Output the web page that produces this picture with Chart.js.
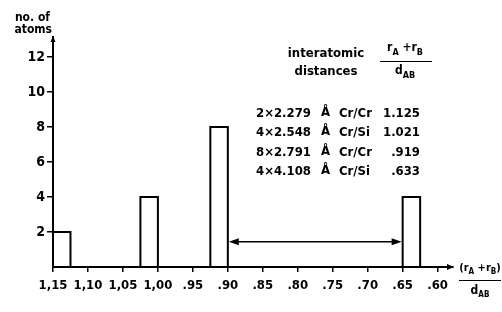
<!DOCTYPE html>
<html><head><meta charset="utf-8">
<script src="https://cdn.jsdelivr.net/npm/chart.js@4"></script>
<style>html,body{margin:0;padding:0;background:#fff}#c{display:block}</style>
</head><body>
<canvas id="c" width="502" height="312"></canvas>
<script>
// ---- data ----
const xTickValues = [1.15, 1.10, 1.05, 1.00, 0.95, 0.90, 0.85, 0.80, 0.75, 0.70, 0.65, 0.60];
const xTickLabels = ['1,15', '1,10', '1,05', '1,00', '.95', '.90', '.85', '.80', '.75', '.70', '.65', '.60'];
const yTickValues = [2, 4, 6, 8, 10, 12];
const binStart = [1.150, 1.025, 0.925, 0.650];
const binEnd = [1.125, 1.000, 0.900, 0.625];
const atomCounts = [2, 4, 8, 4];
const multiplicity = ['2', '4', '8', '4'];
const distances = ['2.279', '2.548', '2.791', '4.108'];
const pairs = ['Cr/Cr', 'Cr/Si', 'Cr/Cr', 'Cr/Si'];
const ratios = ['1.125', '1.021', '.919', '.633'];
const arrowFrom = 0.90, arrowTo = 0.65, arrowLevel = 1.45;
const xMin = 0.578, xMax = 1.15, yMax = 13.15;

const NARROW = '"Liberation Sans Narrow", "DejaVu Sans Condensed", sans-serif';
const FONT = '"DejaVu Sans Condensed", "DejaVu Sans", sans-serif';

const datasets = atomCounts.map((c, i) => ({
  data: [
    {x: binStart[i], y: 0}, {x: binStart[i], y: c},
    {x: binEnd[i], y: c}, {x: binEnd[i], y: 0}
  ],
  borderColor: '#000', borderWidth: 2, pointRadius: 0, tension: 0, fill: false
}));

function setFont(ctx, size, weight) { ctx.font = (weight || 'bold') + ' ' + size + 'px ' + FONT; }
function drawRich(ctx, parts, x, y, size, subSize, align, weight) {
  let w = 0;
  for (const p of parts) { setFont(ctx, p.sub ? subSize : size, weight); w += ctx.measureText(p.t).width; }
  let cx = align === 'center' ? x - w / 2 : (align === 'right' ? x - w : x);
  ctx.textAlign = 'left'; ctx.textBaseline = 'middle';
  for (const p of parts) {
    setFont(ctx, p.sub ? subSize : size, weight);
    ctx.fillText(p.t, cx, y + (p.sub ? size * 0.35 : 0));
    cx += ctx.measureText(p.t).width;
  }
}
function arrowHead(ctx, tipX, tipY, dir, len, half) {
  ctx.beginPath();
  if (dir === 'left') { ctx.moveTo(tipX, tipY); ctx.lineTo(tipX + len, tipY - half); ctx.lineTo(tipX + len, tipY + half); }
  if (dir === 'right') { ctx.moveTo(tipX, tipY); ctx.lineTo(tipX - len, tipY - half); ctx.lineTo(tipX - len, tipY + half); }
  if (dir === 'up') { ctx.moveTo(tipX, tipY); ctx.lineTo(tipX - half, tipY + len); ctx.lineTo(tipX + half, tipY + len); }
  ctx.closePath(); ctx.fill();
}

const annotations = {
  id: 'annotations',
  afterDraw(chart) {
    const ctx = chart.ctx, xs = chart.scales.x, ys = chart.scales.y, a = chart.chartArea;
    ctx.save();
    ctx.fillStyle = '#000'; ctx.strokeStyle = '#000';
    // axis arrowheads
    arrowHead(ctx, a.right + 1, a.bottom, 'right', 7, 3);
    arrowHead(ctx, a.left, a.top - 1, 'up', 6, 2.5);
    // double arrow between .90 and .65
    const ay = ys.getPixelForValue(arrowLevel);
    const x1 = xs.getPixelForValue(arrowFrom), x2 = xs.getPixelForValue(arrowTo);
    ctx.lineWidth = 1.5;
    ctx.beginPath(); ctx.moveTo(x1 + 4, ay); ctx.lineTo(x2 - 4, ay); ctx.stroke();
    arrowHead(ctx, x1 + 1, ay, 'left', 10, 3.5);
    arrowHead(ctx, x2 - 1, ay, 'right', 10, 3.5);
    // y axis title
    setFont(ctx, 12); ctx.textAlign = 'right'; ctx.textBaseline = 'middle';
    ctx.fillText('no. of', 50, 18);
    ctx.fillText('atoms', 52, 30);
    // x axis title fraction
    drawRich(ctx, [{t: '(r'}, {t: 'A', sub: true}, {t: ' +r'}, {t: 'B', sub: true}, {t: ')'}], 480, 268, 11, 8, 'center');
    ctx.lineWidth = 1.2;
    ctx.beginPath(); ctx.moveTo(459, 280.5); ctx.lineTo(501, 280.5); ctx.stroke();
    drawRich(ctx, [{t: 'd'}, {t: 'AB', sub: true}], 480, 291, 12, 8, 'center');
    // header
    setFont(ctx, 13); ctx.textAlign = 'center'; ctx.textBaseline = 'middle';
    ctx.fillText('interatomic', 326, 54);
    ctx.fillText('distances', 326, 72);
    drawRich(ctx, [{t: 'r'}, {t: 'A', sub: true}, {t: ' +r'}, {t: 'B', sub: true}], 405, 48, 12, 9, 'center');
    ctx.lineWidth = 1.2;
    ctx.beginPath(); ctx.moveTo(380, 61.5); ctx.lineTo(432, 61.5); ctx.stroke();
    drawRich(ctx, [{t: 'd'}, {t: 'AB', sub: true}], 405, 71, 12, 9, 'center');
    // table
    const rowY = [114, 133, 153, 172];
    for (let i = 0; i < rowY.length; i++) {
      setFont(ctx, 13); ctx.textBaseline = 'middle';
      ctx.textAlign = 'left';
      ctx.fillText(multiplicity[i] + '\u00d7' + distances[i], 256, rowY[i]);
      ctx.fillText('\u00c5', 321, rowY[i] - 1);
      ctx.fillText(pairs[i], 339, rowY[i]);
      ctx.textAlign = 'right';
      ctx.fillText(ratios[i], 420, rowY[i]);
    }
    ctx.restore();
  }
};

new Chart(document.getElementById('c'), {
  type: 'line',
  data: {datasets},
  options: {
    responsive: false, animation: false, devicePixelRatio: 1,
    layout: {padding: {left: 0, right: 49, top: 37, bottom: 0}},
    plugins: {legend: {display: false}, tooltip: {enabled: false}},
    scales: {
      x: {
        type: 'linear', reverse: true, min: xMin, max: xMax,
        afterBuildTicks: s => { s.ticks = xTickValues.map(v => ({value: v})); },
        afterFit: s => { s.height = 45; },
        ticks: {
          callback: (v, i) => xTickLabels[i], color: '#000', padding: 6,
          autoSkip: false, maxRotation: 0, font: {family: NARROW, size: 13, weight: 'bold'}
        },
        grid: {drawOnChartArea: false, drawTicks: true, tickLength: 5, color: '#000', lineWidth: 1.5},
        border: {display: true, color: '#000', width: 2}
      },
      y: {
        type: 'linear', min: 0, max: yMax,
        afterBuildTicks: s => { s.ticks = yTickValues.map(v => ({value: v})); },
        afterFit: s => { s.width = 53; },
        ticks: {
          callback: (v, i) => String(yTickValues[i]), color: '#000', padding: 2,
          font: {family: NARROW, size: 14, weight: 'bold'}
        },
        grid: {drawOnChartArea: false, drawTicks: true, tickLength: 6, color: '#000', lineWidth: 1.5},
        border: {display: true, color: '#000', width: 2}
      }
    }
  },
  plugins: [annotations]
});
</script>
</body></html>
